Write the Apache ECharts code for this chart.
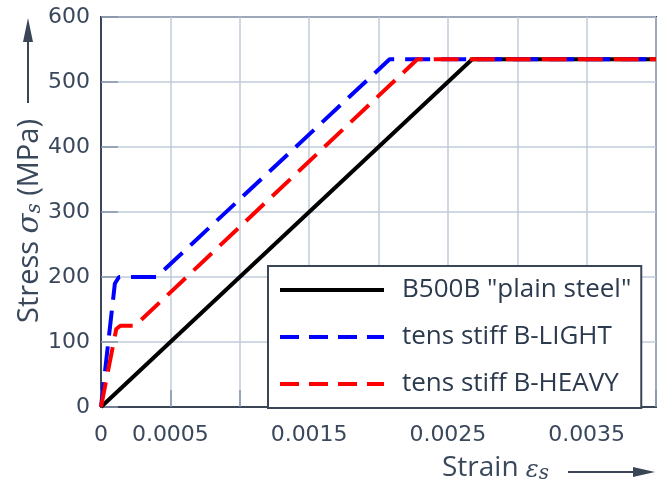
<!DOCTYPE html>
<html>
<head>
<meta charset="utf-8">
<script src="https://cdn.jsdelivr.net/npm/echarts@6/dist/echarts.min.js"></script>
<style>
  html, body { margin: 0; padding: 0; background: #fff; }
  #chart { width: 661px; height: 488px; }
</style>
</head>
<body>
<div id="chart"></div>
<script>
// strain / stress points
const strainPlain = [0, 0.002675, 0.004];
const stressPlain = [0, 535, 535];
const strainLight = [0, 0.0001, 0.00013, 0.0004, 0.00208, 0.004];
const stressLight = [0, 190, 200, 200, 535, 535];
const strainHeavy = [0, 0.00011, 0.00014, 0.000245, 0.00228, 0.004];
const stressHeavy = [0, 120, 125, 125, 535, 535];

const seriesNames = ['B500B "plain steel"', 'tens stiff B-LIGHT', 'tens stiff B-HEAVY'];
const xTickLabels = ['0', '0.0005', '0.0015', '0.0025', '0.0035'];
const yTickLabels = ['0', '100', '200', '300', '400', '500', '600'];

const textColor = '#3a485c';
const frameColor = '#3a4656';

function pairs(xs, ys) {
  return xs.map((x, i) => [x, ys[i]]);
}

const chart = echarts.init(document.getElementById('chart'));

var option = {
  animation: false,
  grid: {
    left: 101,
    top: 17,
    right: 5,
    bottom: 81,
    show: true,
    borderColor: frameColor,
    borderWidth: 2
  },
  xAxis: {
    type: 'value',
    min: 0,
    max: 0.004,
    interval: 0.0005,
    axisLine: { show: true, lineStyle: { color: frameColor, width: 2 } },
    axisTick: { show: true, inside: true, length: 17, lineStyle: { color: '#8494ab', width: 1.5 } },
    splitLine: { show: true, lineStyle: { color: '#bfcbda', width: 1.5 } },
    axisLabel: {
      margin: 17,
      color: textColor,
      fontFamily: 'DejaVu Sans',
      fontSize: 22,
      formatter: function (v) {
        // only some ticks carry a label
        const hit = xTickLabels.find(t => Math.abs(parseFloat(t) - v) < 1e-9);
        return hit === undefined ? '' : hit;
      }
    }
  },
  yAxis: {
    type: 'value',
    min: 0,
    max: 600,
    interval: 100,
    axisLine: { show: true, lineStyle: { color: frameColor, width: 2 } },
    axisTick: { show: true, inside: true, length: 17, lineStyle: { color: '#8494ab', width: 1.5 } },
    splitLine: { show: true, lineStyle: { color: '#bfcbda', width: 1.5 } },
    axisLabel: {
      margin: 11,
      color: textColor,
      fontFamily: 'DejaVu Sans',
      fontSize: 22,
      formatter: function (v) {
        return yTickLabels.indexOf(String(v)) >= 0 ? String(v) : '';
      }
    }
  },
  legend: {
    orient: 'vertical',
    left: 268,
    top: 266,
    data: [
      { name: seriesNames[0] },
      { name: seriesNames[1], lineStyle: { type: [19, 10] } },
      { name: seriesNames[2], lineStyle: { type: [19, 10] } }
    ],
    backgroundColor: '#fff',
    borderColor: frameColor,
    borderWidth: 2,
    borderRadius: 0,
    padding: [11, 10, 11, 10],
    itemWidth: 104,
    itemHeight: 20,
    itemGap: 21,
    itemStyle: { opacity: 0 },
    lineStyle: { width: 4 },
    textStyle: {
      color: '#2c3a4e',
      fontFamily: 'Open Sans',
      fontSize: 26,
      padding: [0, 0, 0, 13]
    }
  },
  series: [
    {
      name: seriesNames[0],
      type: 'line',
      symbol: 'none',
      data: pairs(strainPlain, stressPlain),
      lineStyle: { color: '#000', width: 4, type: 'solid' },
      itemStyle: { color: '#000' }
    },
    {
      name: seriesNames[1],
      type: 'line',
      symbol: 'none',
      data: pairs(strainLight, stressLight),
      lineStyle: { color: '#0000ff', width: 4, type: [25, 11] },
      itemStyle: { color: '#0000ff' }
    },
    {
      name: seriesNames[2],
      type: 'line',
      symbol: 'none',
      data: pairs(strainHeavy, stressHeavy),
      lineStyle: { color: '#ff0000', width: 4, type: [25, 11] },
      itemStyle: { color: '#ff0000' }
    }
  ],
  graphic: [
    // y axis title, reads bottom to top
    {
      type: 'text',
      x: 30,
      y: 221,
      rotation: Math.PI / 2,
      style: {
        text: 'Stress {g|σ}{sub|s} (MPa)',
        font: '29px "Open Sans"',
        fill: textColor,
        align: 'center',
        verticalAlign: 'middle',
        rich: {
          g: { fontSize: 29, fontFamily: 'DejaVu Serif', fontStyle: 'italic', fill: textColor },
          sub: { fontSize: 20, fontFamily: 'DejaVu Serif', fontStyle: 'italic', fill: textColor, padding: [10, 0, 0, 0] }
        }
      }
    },
    // arrow up
    { type: 'line', shape: { x1: 28, y1: 103, x2: 28, y2: 36 }, style: { stroke: frameColor, lineWidth: 2 } },
    { type: 'polygon', shape: { points: [[28, 18], [23, 42], [33, 42]] }, style: { fill: frameColor } },
    // x axis title
    {
      type: 'text',
      x: 442,
      y: 468,
      style: {
        text: 'Strain {g|ε}{sub|s}',
        font: '28px "Open Sans"',
        fill: textColor,
        align: 'left',
        verticalAlign: 'middle',
        rich: {
          g: { fontSize: 24, fontFamily: 'DejaVu Serif', fontStyle: 'italic', fill: textColor, padding: [6, 0, 0, 0] },
          sub: { fontSize: 20, fontFamily: 'DejaVu Serif', fontStyle: 'italic', fill: textColor, padding: [12, 0, 0, 0] }
        }
      }
    },
    // arrow right
    { type: 'line', shape: { x1: 568, y1: 472, x2: 636, y2: 472 }, style: { stroke: frameColor, lineWidth: 2 } },
    { type: 'polygon', shape: { points: [[655, 472], [633, 467], [633, 477]] }, style: { fill: frameColor } }
  ]
};

chart.setOption(option);
</script>
</body>
</html>
